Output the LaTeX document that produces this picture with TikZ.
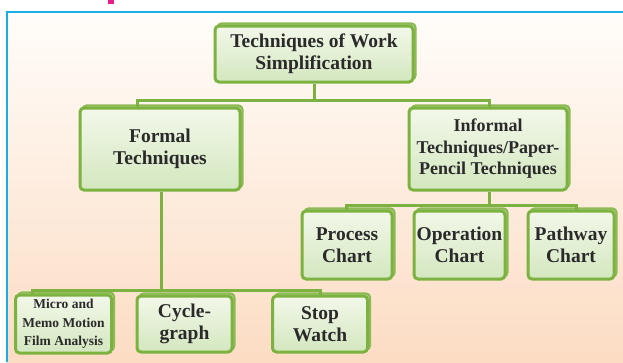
\documentclass[tikz,border=0pt]{standalone}
\usepackage{fontspec}
\setmainfont{Liberation Serif}[BoldFont={Liberation Serif Bold}]
\newfontfamily\timesb{Liberation Serif Bold}
\definecolor{framblue}{HTML}{1AADE6}
\definecolor{pinkm}{HTML}{EC1C8C}
\definecolor{gborder}{HTML}{7CB23F}
\definecolor{gdark}{HTML}{8DBA55}
\definecolor{gtop}{HTML}{F3F8EA}
\definecolor{gbot}{HTML}{D3E7BF}
\definecolor{bgtop}{HTML}{FFFDFA}
\definecolor{bgbot}{HTML}{FCDCC3}
\definecolor{txt}{HTML}{2A2A2A}
\tikzset{
  card/.style={rectangle, rounded corners=4pt, draw=gborder, line width=3pt,
    top color=gtop, bottom color=gbot, align=center, text=txt,
    inner sep=0pt,
    preaction={draw=gdark, fill=gdark!60, line width=2.2pt,
      transform canvas={xshift=2.5pt, yshift=2.5pt}}},
  bigfont/.style={font=\timesb\fontsize{19.5}{22}\selectfont},
  midfont/.style={font=\timesb\fontsize{18}{21.5}\selectfont},
  smallfont/.style={font=\timesb\fontsize{13.5}{18.5}\selectfont},
  conn/.style={draw=gborder, line width=3pt}
}
\begin{document}
\begin{tikzpicture}[x=1pt,y=-1pt]
\useasboundingbox (0,0) rectangle (623,362);
\fill[white] (0,0) rectangle (623,362);
\shade[top color=bgtop, bottom color=bgbot] (7,12) rectangle (623,362);
\fill[pinkm] (108,0) rectangle (114,3.5);
\draw[framblue, line width=2.8pt] (7,362) -- (7,12) -- (623,12);

\coordinate (b1) at (137,100);
\coordinate (b2) at (489,100);
\coordinate (c1) at (346,205);
\coordinate (c2) at (576,205);
\coordinate (d1) at (32,290);
\coordinate (d2) at (320,290);

\node[card, bigfont, minimum width=198pt, minimum height=56pt] (top) at (314,54)
  {Techniques of Work\\Simplification};
\node[card, bigfont, minimum width=160pt, minimum height=82pt] (formal) at (160,149)
  {Formal\\Techniques};
\node[card, midfont, minimum width=158pt, minimum height=82pt] (informal) at (488,149)
  {Informal\\Techniques/Paper-\\Pencil Techniques};
\node[card, bigfont, minimum width=90pt, minimum height=68pt] (process) at (347,245)
  {Process\\Chart};
\node[card, bigfont, minimum width=91pt, minimum height=68pt] (operation) at (459.5,245)
  {Operation\\Chart};
\node[card, bigfont, minimum width=86pt, minimum height=68pt] (pathway) at (571,245)
  {Pathway\\Chart};
\node[card, smallfont, minimum width=96pt, minimum height=58pt] (micro) at (63.5,324)
  {Micro and\\Memo Motion\\Film Analysis};
\node[card, bigfont, minimum width=95pt, minimum height=56pt] (cycle) at (184.5,324)
  {Cycle-\\graph};
\node[card, bigfont, minimum width=95pt, minimum height=56pt] (stop) at (320,324)
  {Stop\\Watch};

\draw[conn] (top.south) -- (top.south |- b1);
\draw[conn] (formal.north -| b1) -- (b1) -- (b2) -- (informal.north -| b2);
\draw[conn] (informal.south -| 489,0) -- (489,205);
\draw[conn] (process.north -| c1) -- (c1) -- (c2) -- (pathway.north -| c2);
\draw[conn] (formal.south -| 161,0) -- (161,290);
\draw[conn] (micro.north -| d1) -- (d1) -- (d2) -- (stop.north -| d2);
\end{tikzpicture}
\end{document}
